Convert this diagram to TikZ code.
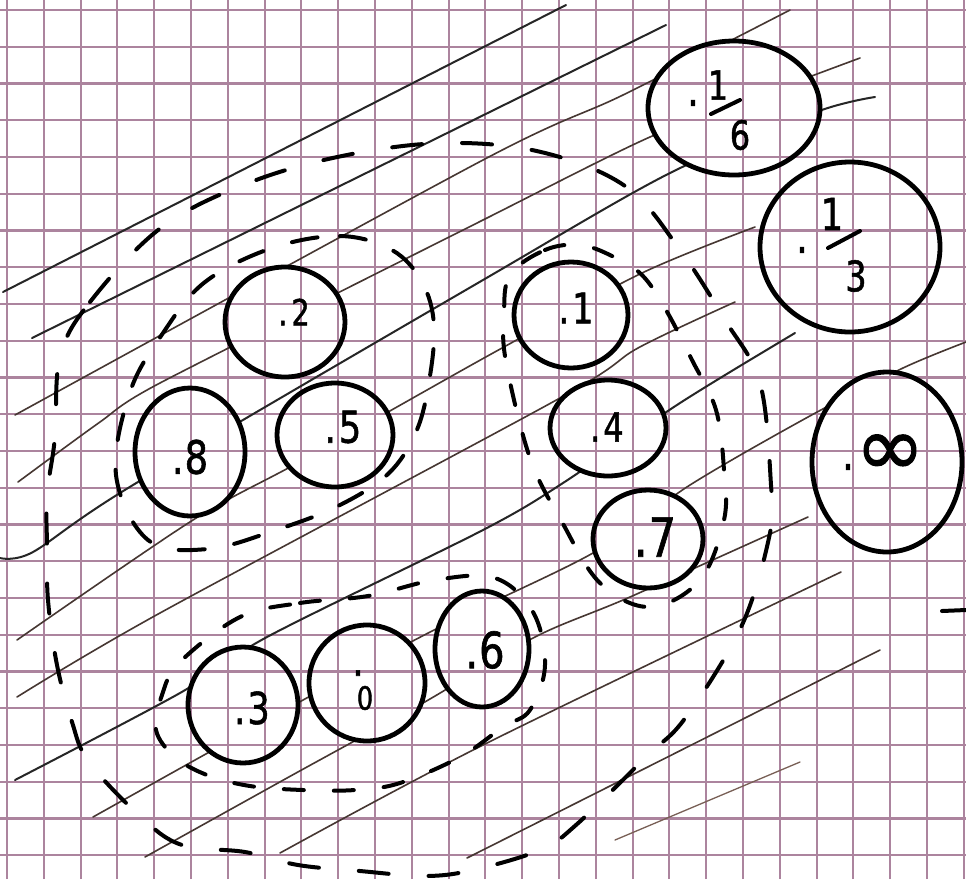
\documentclass[tikz,border=0pt]{standalone}
\usepackage{fontspec}
\newfontfamily\hand[FakeStretch=0.8,FakeBold=1.2]{DejaVu Sans}
\newfontfamily\handw[FakeBold=1.2]{DejaVu Sans}
\usetikzlibrary{shapes.geometric}
\definecolor{gridc}{RGB}{172,132,158}
\definecolor{hatchc}{RGB}{70,55,50}
\definecolor{hatchl}{RGB}{120,95,85}
\newcommand\lblsz[1]{\fontsize{#1}{#1}\selectfont}
\newcommand\papergrid{%
  \begin{scope}[shift={(7,10)}]
    \draw[gridline, xstep=36.8pt, ystep=36.75pt] (-7,-10) grid (959,869);
  \end{scope}
}
\begin{document}
\begin{tikzpicture}[x=1pt,y=-1pt,
  gridline/.style={draw=gridc, line width=2.1pt},
  hatchbold/.style={draw=black!85, line width=2pt, line cap=round},
  hatch/.style={draw=hatchc, line width=1.6pt, line cap=round},
  hatchfaint/.style={draw=hatchl, line width=1.3pt, line cap=round},
  ringA/.style={draw=black, line width=4pt, line cap=round, dash pattern=on 26pt off 30pt},
  ringB/.style={draw=black, line width=4pt, line cap=round, dash pattern=on 20pt off 30pt},
  ringD/.style={draw=black, line width=4pt, line cap=round, dash pattern=on 30pt off 40pt},
  bubble/.style={ellipse, draw=black, line width=4.8pt, inner sep=0pt, outer sep=0pt},
  lbl/.style={inner sep=0pt, outer sep=0pt, text=black}
]
\fill[white] (0,0) rectangle (966,879);
\useasboundingbox (0,0) rectangle (966,879);
\papergrid

% hatching
\draw[hatchbold] (3,292) -- (566,5);
\draw[hatchbold] (32,338) -- (666,25);
\draw[hatch] plot[smooth, tension=0.5] coordinates {(15,415) (483,160) (623,95) (790,10)};
\draw[hatch] plot[smooth, tension=0.4] coordinates {(18,482) (100,422) (160,383) (483,220) (650,137) (801,80) (860,58)};
\draw[hatchbold] plot[smooth, tension=0.5] coordinates {(0,558) (33,552) (133,485) (483,280) (670,173) (816,112) (875,97)};
\draw[hatch] plot[smooth, tension=0.5] coordinates {(17,640) (193,520) (303,460) (493,353) (642,273) (755,227)};
\draw[hatch] plot[smooth, tension=0.5] coordinates {(17,697) (160,613) (560,398) (638,348) (735,302)};
\draw[hatchbold] plot[smooth, tension=0.5] coordinates {(15,780) (180,693) (267,637) (483,530) (563,483) (680,403) (795,333)};
\draw[hatch] plot[smooth, tension=0.5] coordinates {(93,817) (213,750) (325,688) (440,627) (593,553) (690,485) (808,417) (903,368) (966,342)};
\draw[hatch] plot[smooth, tension=0.5] coordinates {(145,857) (287,778) (423,703) (535,637) (630,597) (808,517)};
\draw[hatch] plot[smooth, tension=0.5] coordinates {(280,853) (483,745) (841,572)};
\draw[hatch] (467,858) -- (880,650);
\draw[hatchfaint] (615,840) -- (800,762);

% dashed rings
\draw[ringA] plot[smooth cycle, tension=0.6] coordinates {(272,248) (340,236) (392,250) (422,282) (434,325) (429,382) (416,432) (388,474) (338,506) (276,530) (208,549) (148,540) (116,475) (130,392) (163,333) (205,282)};
\draw[ringB] plot[smooth cycle, tension=0.6] coordinates {(510,275) (545,250) (580,245) (612,256) (642,275) (666,310) (692,360) (716,410) (724,470) (724,520) (700,580) (650,607) (600,583) (562,522) (530,458) (506,362) (504,315)};
\draw[ringB] plot[smooth cycle, tension=0.6] coordinates {(240,617) (300,603) (368,596) (435,580) (495,578) (533,612) (545,665) (530,710) (503,727) (460,757) (400,783) (355,790) (303,790) (250,786) (207,775) (175,757) (156,730) (162,695) (180,662)};
\draw[ringD] plot[smooth cycle, tension=0.6] coordinates {(60,357) (90,302) (162,227) (251,182) (347,155) (446,143) (541,152) (625,186) (678,247) (725,320) (760,383) (771,485) (770,533) (742,625) (686,717) (646,757) (576,825) (540,850) (473,870) (425,876) (360,871) (298,865) (245,852) (182,845) (141,817) (89,762) (72,722) (57,665) (48,600) (47,545) (47,495) (55,437)};
\draw[line width=4pt, line cap=round] (942,611) -- (966,610);

% circle interiors: paper with grid
\fill[white] (734,108) ellipse [x radius=86pt, y radius=67pt]
  (850,247) ellipse [x radius=90pt, y radius=85pt]
  (887,462) ellipse [x radius=75pt, y radius=90pt]
  (571,315) ellipse [x radius=57pt, y radius=53pt]
  (608,428) ellipse [x radius=58pt, y radius=48pt]
  (648,539) ellipse [x radius=55pt, y radius=49pt]
  (482,649) ellipse [x radius=47pt, y radius=58pt]
  (367,683) ellipse [x radius=58pt, y radius=58pt]
  (243,705) ellipse [x radius=55pt, y radius=58pt]
  (190,452) ellipse [x radius=55pt, y radius=64pt]
  (335,435) ellipse [x radius=58pt, y radius=52pt]
  (285,322) ellipse [x radius=60pt, y radius=55pt];
\begin{scope}
\clip (734,108) ellipse [x radius=86pt, y radius=67pt]
  (850,247) ellipse [x radius=90pt, y radius=85pt]
  (887,462) ellipse [x radius=75pt, y radius=90pt]
  (571,315) ellipse [x radius=57pt, y radius=53pt]
  (608,428) ellipse [x radius=58pt, y radius=48pt]
  (648,539) ellipse [x radius=55pt, y radius=49pt]
  (482,649) ellipse [x radius=47pt, y radius=58pt]
  (367,683) ellipse [x radius=58pt, y radius=58pt]
  (243,705) ellipse [x radius=55pt, y radius=58pt]
  (190,452) ellipse [x radius=55pt, y radius=64pt]
  (335,435) ellipse [x radius=58pt, y radius=52pt]
  (285,322) ellipse [x radius=60pt, y radius=55pt];
\papergrid
\end{scope}

% circles
\node[bubble, minimum width=172pt, minimum height=134pt] (c16) at (734,108) {};
\node[bubble, minimum width=180pt, minimum height=170pt] (c13) at (850,247) {};
\node[bubble, minimum width=150pt, minimum height=180pt] (cinf) at (887,462) {};
\node[bubble, minimum width=114pt, minimum height=106pt] (c1) at (571,315) {};
\node[bubble, minimum width=116pt, minimum height=96pt] (c4) at (608,428) {};
\node[bubble, minimum width=110pt, minimum height=98pt] (c7) at (648,539) {};
\node[bubble, minimum width=94pt, minimum height=116pt] (c6) at (482,649) {};
\node[bubble, minimum width=116pt, minimum height=116pt] (c0) at (367,683) {};
\node[bubble, minimum width=110pt, minimum height=116pt] (c3) at (243,705) {};
\node[bubble, minimum width=110pt, minimum height=128pt] (c8) at (190,452) {};
\node[bubble, minimum width=116pt, minimum height=104pt] (c5) at (335,435) {};
\node[bubble, minimum width=120pt, minimum height=110pt] (c2) at (285,322) {};

% labels
\node[lbl, font=\hand\lblsz{36}] (t2) at (294,312) {.\hspace{4pt}2};
\node[lbl, font=\hand\lblsz{44}] (t5) at (343,427) {.\hspace{3pt}5};
\node[lbl, font=\hand\lblsz{46}] (t8) at (190,457) {.\hspace{1pt}8};
\node[lbl, font=\hand\lblsz{42}] (t1) at (576,308) {.\hspace{3pt}1};
\node[lbl, font=\hand\lblsz{40}] (t4) at (607,427) {.\hspace{3pt}4};
\node[lbl, font=\hand\lblsz{54}] (t7) at (655,537) {.\hspace{1pt}7};
\node[lbl, font=\hand\lblsz{50}] (t6) at (485,650) {.\hspace{1pt}6};
\node[lbl, font=\hand\lblsz{32}] (t0) at (365,698) {0};
\node[lbl, font=\hand\lblsz{44}] (t0dot) at (358,673) {.};
\node[lbl, font=\hand\lblsz{44}] (t3) at (252,708) {.\hspace{2pt}3};
\node[lbl, font=\hand\lblsz{46}] (tinfdot) at (848,467) {.};
\node[lbl, font=\handw\lblsz{84}] (tinf) at (890,455) {∞};
\node[lbl, font=\hand\lblsz{46}] (t16dot) at (693,103) {.};
\node[lbl, font=\hand\lblsz{40}] (t16n) at (718,85) {1};
\node[lbl, font=\hand\lblsz{40}] (t16d) at (740,135) {6};
\draw[line width=4pt, line cap=round] (711,114) -- (740,100);
\node[lbl, font=\hand\lblsz{46}] (t13dot) at (802,250) {.};
\node[lbl, font=\hand\lblsz{44}] (t13n) at (832,214) {1};
\node[lbl, font=\hand\lblsz{42}] (t13d) at (856,276) {3};
\draw[line width=4pt, line cap=round] (828,248) -- (860,231);
\end{tikzpicture}
\end{document}
